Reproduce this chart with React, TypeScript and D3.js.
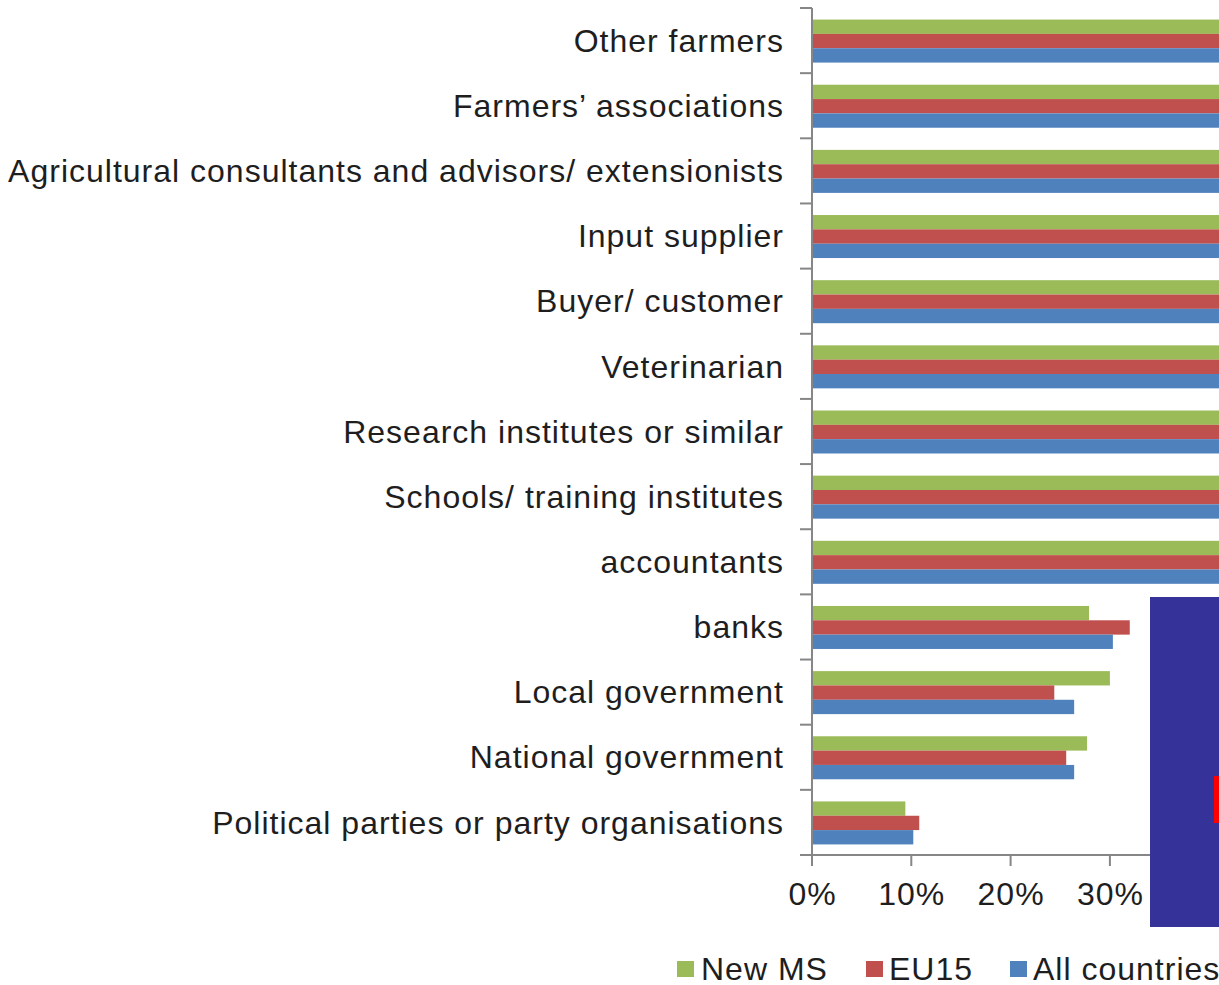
import React, { useEffect, useRef } from 'react';
import * as d3 from 'd3';

const categories = [
  'Other farmers',
  'Farmers\u2019 associations',
  'Agricultural consultants and advisors/ extensionists',
  'Input supplier',
  'Buyer/ customer',
  'Veterinarian',
  'Research institutes or similar',
  'Schools/ training institutes',
  'accountants',
  'banks',
  'Local government',
  'National government',
  'Political parties or party organisations',
];

const seriesNames = ['New MS', 'EU15', 'All countries'];

// values beyond ~41% are cut off by the picture edge and are estimates
const newMS = [0.74, 0.68, 0.62, 0.58, 0.52, 0.5, 0.46, 0.45, 0.44, 0.279, 0.3, 0.277, 0.094];
const eu15 = [0.78, 0.66, 0.64, 0.6, 0.55, 0.53, 0.44, 0.47, 0.5, 0.32, 0.244, 0.256, 0.108];
const allCountries = [0.76, 0.67, 0.63, 0.59, 0.54, 0.52, 0.45, 0.46, 0.47, 0.303, 0.264, 0.264, 0.102];

const xTicks = [0, 0.1, 0.2, 0.3];

const colors = ['#9BBB59', '#C0504D', '#4F81BD'];

const W = 1219;
const H = 985;

const App: React.FC = () => {
  const svgRef = useRef<SVGSVGElement>(null);

  useEffect(() => {
    if (!svgRef.current) return;
    const svg = d3.select(svgRef.current);
    svg.selectAll('*').remove();

    const x0 = 812;
    const top = 8;
    const bottom = 855;
    const font = 'Liberation Sans, Arial, sans-serif';
    const fontSize = 32;
    const spacing = 1;
    const textColor = '#1e1e1e';

    const x = d3.scaleLinear().domain([0, 1]).range([x0, x0 + 993]);
    const y = d3.scaleBand<string>().domain(categories).range([top, bottom]);
    const inner = d3
      .scaleBand<string>()
      .domain(seriesNames)
      .range([0, y.bandwidth() * 0.66]);
    const groupOffset = (y.bandwidth() * 0.34) / 2 + 0.5;

    const seriesValues = [newMS, eu15, allCountries];

    const g = svg.append('g');

    // bars
    seriesNames.forEach((name, si) => {
      g.append('g')
        .selectAll('rect')
        .data(categories)
        .join('rect')
        .attr('x', x(0))
        .attr('y', (c) => (y(c) as number) + groupOffset + (inner(name) as number))
        .attr('width', (_c, i) => x(seriesValues[si][i]) - x(0))
        .attr('height', inner.bandwidth())
        .attr('fill', colors[si]);
    });

    const axisColor = '#868686';

    // y axis line and ticks at band boundaries
    g.append('line')
      .attr('x1', x0)
      .attr('x2', x0)
      .attr('y1', top)
      .attr('y2', bottom)
      .attr('stroke', axisColor)
      .attr('stroke-width', 2);
    const boundaries = categories.map((c) => y(c) as number).concat([bottom]);
    g.append('g')
      .selectAll('line')
      .data(boundaries)
      .join('line')
      .attr('x1', x0 - 12)
      .attr('x2', x0)
      .attr('y1', (d) => d)
      .attr('y2', (d) => d)
      .attr('stroke', axisColor)
      .attr('stroke-width', 2);

    // x axis
    g.append('line')
      .attr('x1', x0 - 12)
      .attr('x2', W)
      .attr('y1', bottom)
      .attr('y2', bottom)
      .attr('stroke', axisColor)
      .attr('stroke-width', 2);
    g.append('g')
      .selectAll('line')
      .data(xTicks)
      .join('line')
      .attr('x1', (d) => x(d))
      .attr('x2', (d) => x(d))
      .attr('y1', bottom)
      .attr('y2', bottom + 11)
      .attr('stroke', axisColor)
      .attr('stroke-width', 2);
    g.append('g')
      .selectAll('text')
      .data(xTicks)
      .join('text')
      .attr('x', (d) => x(d) + spacing / 2)
      .attr('y', 905)
      .attr('text-anchor', 'middle')
      .attr('font-family', font)
      .attr('font-size', fontSize)
      .attr('letter-spacing', spacing)
      .attr('fill', textColor)
      .text((d) => d3.format('.0%')(d));

    // category labels
    g.append('g')
      .selectAll('text')
      .data(categories)
      .join('text')
      .attr('x', 784)
      .attr('y', (c) => (y(c) as number) + y.bandwidth() / 2)
      .attr('dy', '0.35em')
      .attr('text-anchor', 'end')
      .attr('font-family', font)
      .attr('font-size', fontSize)
      .attr('letter-spacing', spacing)
      .attr('fill', textColor)
      .text((c) => c);

    // legend
    const legendX = [677, 866, 1010];
    const legendTextX = [701, 889, 1033];
    const legend = g.append('g');
    seriesNames.forEach((name, i) => {
      legend
        .append('rect')
        .attr('x', legendX[i])
        .attr('y', 961)
        .attr('width', 17)
        .attr('height', 16)
        .attr('fill', colors[i]);
      legend
        .append('text')
        .attr('x', legendTextX[i])
        .attr('y', 980)
        .attr('font-family', font)
        .attr('font-size', fontSize)
        .attr('letter-spacing', spacing)
        .attr('fill', textColor)
        .text(name);
    });

    // overlay block at bottom right
    g.append('rect')
      .attr('x', 1150)
      .attr('y', 597)
      .attr('width', W - 1150)
      .attr('height', 330)
      .attr('fill', '#35339A');
    g.append('rect')
      .attr('x', 1214)
      .attr('y', 776)
      .attr('width', 5)
      .attr('height', 47)
      .attr('fill', '#FF0000');
  }, []);

  return (
    <svg
      ref={svgRef}
      width={W}
      height={H}
      style={{ position: 'absolute', left: 0, top: 0, background: '#fff' }}
    />
  );
};

export default App;
